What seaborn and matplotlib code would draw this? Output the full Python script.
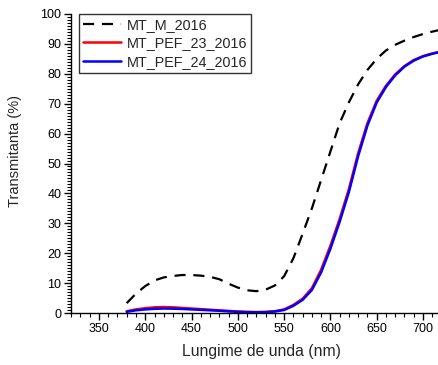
import matplotlib
matplotlib.use("Agg")
import matplotlib.pyplot as plt
from matplotlib.ticker import MultipleLocator
import numpy as np
import pandas as pd
import seaborn as sns

# Wavelength grid (nm)
wavelength = [380, 390, 400, 410, 420, 430, 440, 450, 460, 470, 480, 490,
              500, 510, 520, 530, 540, 550, 560, 570, 580, 590, 600, 610,
              620, 630, 640, 650, 660, 670, 680, 690, 700, 710, 720]

# Transmittance (%) per sample
mt_m_2016 = [3.3, 6.5, 9.0, 10.9, 11.9, 12.4, 12.7, 12.7, 12.5, 12.1, 11.3, 9.8,
             8.5, 7.6, 7.3, 7.8, 9.2, 12.3, 18.3, 26.5, 35.0, 44.5, 54.0, 63.5,
             70.5, 76.5, 81.3, 85.0, 87.8, 89.7, 91.1, 92.3, 93.3, 94.1, 94.8]
mt_pef_23_2016 = [0.6, 1.2, 1.6, 1.9, 2.0, 1.9, 1.7, 1.5, 1.3, 1.1, 0.9, 0.7,
                  0.5, 0.35, 0.3, 0.35, 0.6, 1.2, 2.7, 4.8, 8.3, 14.5, 22.5, 31.5,
                  41.5, 53.5, 63.5, 71.0, 76.0, 79.8, 82.6, 84.6, 85.9, 86.8, 87.5]
mt_pef_24_2016 = [0.4, 0.9, 1.2, 1.4, 1.5, 1.45, 1.35, 1.2, 1.05, 0.9, 0.75, 0.55,
                  0.4, 0.3, 0.25, 0.3, 0.5, 1.0, 2.4, 4.4, 7.7, 13.6, 21.5, 30.5,
                  40.5, 52.5, 62.7, 70.4, 75.6, 79.5, 82.4, 84.4, 85.8, 86.7, 87.4]

series_names = ["MT_M_2016", "MT_PEF_23_2016", "MT_PEF_24_2016"]
x_ticks = [350, 400, 450, 500, 550, 600, 650, 700]
y_ticks = [0, 10, 20, 30, 40, 50, 60, 70, 80, 90, 100]

df = pd.DataFrame({
    "wl": wavelength * 3,
    "T": mt_m_2016 + mt_pef_23_2016 + mt_pef_24_2016,
    "sample": sum([[n] * len(wavelength) for n in series_names], []),
})

sns.set_style("ticks")
plt.rcParams["font.family"] = ["Liberation Sans", "DejaVu Sans"]

fig = plt.figure(figsize=(4.39, 3.65), dpi=100)
ax = fig.add_axes([71 / 439, 1 - 313 / 365, 368 / 439, 299 / 365])

styles = {
    "MT_M_2016": dict(color="black", lw=1.6, dashes=(5, 3.5)),
    "MT_PEF_23_2016": dict(color="#ff0000", lw=1.8, dashes=()),
    "MT_PEF_24_2016": dict(color="#0000ff", lw=1.8, dashes=()),
}
for name in series_names:
    st = styles[name]
    sub = df[df["sample"] == name]
    sns.lineplot(data=sub, x="wl", y="T", ax=ax, color=st["color"],
                 lw=st["lw"], label=name)
    if st["dashes"]:
        ax.lines[-1].set_dashes(st["dashes"])

ax.set_xlim(319.8, 717.3)
ax.set_ylim(0, 100)
ax.set_xticks(x_ticks)
ax.set_yticks(y_ticks)
ax.xaxis.set_minor_locator(MultipleLocator(10))
ax.yaxis.set_minor_locator(MultipleLocator(1))
ax.tick_params(axis="both", which="major", direction="out", length=5, width=1,
               labelsize=9, colors="black", pad=2)
ax.tick_params(axis="both", which="minor", direction="out", length=3, width=0.8,
               colors="black")
for s in ["top", "right"]:
    ax.spines[s].set_visible(False)
for s in ["left", "bottom"]:
    ax.spines[s].set_linewidth(1)
    ax.spines[s].set_color("black")

ax.set_xlabel("Lungime de unda (nm)", fontsize=11.3, labelpad=9)
ax.xaxis.set_label_coords(0.518, -0.105, transform=ax.transAxes)
ax.xaxis.label.set_va("top")
ax.set_ylabel("Transmitanta (%)", fontsize=10.5)
ax.yaxis.set_label_coords(-0.133, 0.542, transform=ax.transAxes)

leg = ax.legend(loc="upper left", bbox_to_anchor=(0.022, 1.0), borderaxespad=0,
                fontsize=10.4, frameon=True, fancybox=False, edgecolor="black",
                handlelength=2.6, labelspacing=0.3, borderpad=0.28,
                handletextpad=0.4)
leg.get_frame().set_linewidth(1)

fig.savefig("out.png", dpi=100)
